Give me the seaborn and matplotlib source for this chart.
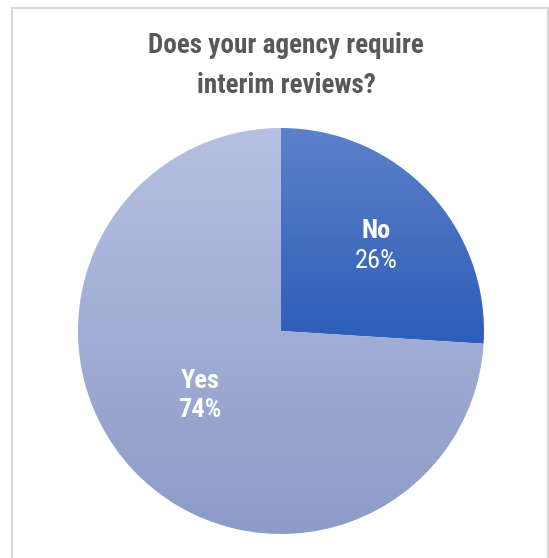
import numpy as np
import matplotlib
matplotlib.use("Agg")
import matplotlib.pyplot as plt
import seaborn as sns
from matplotlib.colors import LinearSegmentedColormap
from matplotlib.patches import Rectangle

sns.set_theme(style="white")
plt.rcParams["font.family"] = ["Roboto Condensed", "Archivo Narrow", "DejaVu Sans"]

# Survey answers
answers = ["No", "Yes"]
shares = [26, 74]
pct_labels = ["26%", "74%"]
title_lines = ["Does your agency require", "interim reviews?"]

# Vertical gradient (top colour, bottom colour) per slice
gradients = [("#5D81C9", "#2C5DB8"), ("#B5C0E2", "#8C9BC7")]
# label placement inside each slice: fraction of radius, angle nudge (deg)
label_radius = [0.63, 0.51]
label_turn = [-1.5, -4.5]
pct_bold = [False, True]

W, H = 549, 558
fig = plt.figure(figsize=(W / 100, H / 100), dpi=100)
ax = fig.add_axes([0, 0, 1, 1])

cx, cy, R = 281, H - 331, 203
wedges, _ = ax.pie(shares, startangle=90, counterclock=False, center=(cx, cy),
                   radius=R, frame=True,
                   wedgeprops=dict(linewidth=0, edgecolor="none"))
ax.set_xlim(0, W)
ax.set_ylim(0, H)
ax.set_aspect("equal")
ax.axis("off")

# chart frame
ax.add_patch(Rectangle((11.5, -5), 536.5, H - 7.5 + 5, fill=False,
                       edgecolor="#D9D9D9", linewidth=1.5))

for w, (top, bot), name, pct, rf, turn, pb in zip(wedges, gradients, answers,
                                                  pct_labels, label_radius,
                                                  label_turn, pct_bold):
    path = w.get_path().transformed(w.get_patch_transform())
    verts = path.vertices
    y0, y1 = verts[:, 1].min(), verts[:, 1].max()
    x0, x1 = verts[:, 0].min(), verts[:, 0].max()
    cmap = LinearSegmentedColormap.from_list(name, [bot, top])
    grad = np.linspace(0, 1, 256).reshape(-1, 1)
    im = ax.imshow(grad, cmap=cmap, origin="lower", aspect="auto",
                   extent=(x0, x1, y0, y1), zorder=2, interpolation="bilinear")
    im.set_clip_path(w)
    w.set_facecolor("none")
    mid = np.deg2rad((w.theta1 + w.theta2) / 2 + turn)
    tx = cx + rf * R * np.cos(mid)
    ty = cy + rf * R * np.sin(mid)
    ax.annotate(name, (tx, ty), xytext=(0, 10.5), textcoords="offset points",
                ha="center", va="center", color="white", fontsize=19,
                fontweight="bold", zorder=5)
    ax.annotate(pct, (tx, ty), xytext=(0, -10.5), textcoords="offset points",
                ha="center", va="center", color="white", fontsize=19,
                fontweight="bold" if pb else "normal", zorder=5)

for line, base in zip(title_lines, [53, 93]):
    ax.text(286, H - base, line, ha="center", va="baseline",
            fontsize=19.5, fontweight="bold", color="#595959")

ax.set_xlim(0, W)
ax.set_ylim(0, H)
fig.savefig("out.png", dpi=100)
